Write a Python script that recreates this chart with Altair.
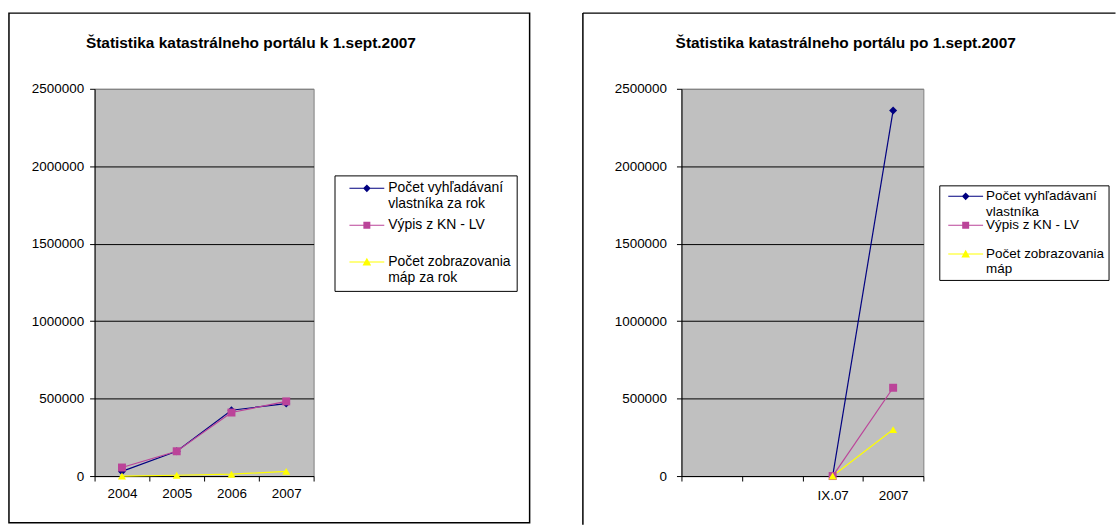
import json

import altair as alt
import pandas as pd

FONT = "Liberation Sans"

# Yearly totals up to 1 Sept 2007
years = ["2004", "2005", "2006", "2007"]
searches_by_year = [30000, 160000, 425000, 468000]
extracts_by_year = [55000, 160000, 410000, 482000]
map_views_by_year = [0, 5000, 12000, 30000]
series_by_year = [
    "Počet vyhľadávaní|vlastníka za rok",
    "Výpis z KN - LV|",
    "Počet zobrazovania|máp za rok",
]

# Totals after 1 Sept 2007 (the axis has two unused leading slots)
slots_after = ["slot1", "slot2", "IX.07", "2007"]
periods_after = ["IX.07", "2007"]
searches_after = [0, 2360000]
extracts_after = [0, 570000]
map_views_after = [0, 300000]
series_after = [
    "Počet vyhľadávaní|vlastníka",
    "Výpis z KN - LV|",
    "Počet zobrazovania|máp",
]

series_colors = ["#000080", "#BB4499", "#FFFF00"]
marker_shapes = ["diamond", "square", "triangle-up"]
# legend keys: a thin bar (the line) with the series marker on top;
# drawn at symbolSize 196, i.e. 7 px per path unit
legend_keys = [
    "M-2.5,-0.07H2.5V0.07H-2.5Z M0,-0.55L0.55,0L0,0.55L-0.55,0Z",
    "M-2.5,-0.07H2.5V0.07H-2.5Z M-0.5,-0.5H0.5V0.5H-0.5Z",
    "M-2.5,-0.07H2.5V0.07H-2.5Z M0,-0.6L0.62,0.5L-0.62,0.5Z",
]
y_ticks = [0, 500000, 1000000, 1500000, 2000000, 2500000]


def long_table(cats, series, columns):
    rows = []
    for name, vals in zip(series, columns):
        for j, (c, v) in enumerate(zip(cats, vals)):
            rows.append({"series": name, "cat": c, "value": v, "ord": j})
    return pd.DataFrame(rows)


def panel(cats, domain, series, columns, title, title_dx, width,
          y_label_pad, x_label_pad, x_label_expr, legend_opts, frame_layers):
    df = long_table(cats, series, columns)

    x_axis = alt.Axis(
        title=None, labelAngle=0, tickBand="extent", tickSize=5,
        labelPadding=x_label_pad, labelFont=FONT, labelFontSize=13.5,
        labelColor="black", domainColor="black", tickColor="black",
        grid=False,
        **({"labelExpr": x_label_expr} if x_label_expr else {}),
    )
    y_axis = alt.Axis(
        title=None, values=y_ticks, format="d", tickSize=5,
        labelPadding=y_label_pad, labelFont=FONT, labelFontSize=13.5,
        labelColor="black", domainColor="black", tickColor="black",
        grid=True, gridWidth=1,
        gridColor={"condition": {"test": "datum.value >= 2500000", "value": "#808080"},
                   "value": "black"},
    )
    x = alt.X("cat:N", sort=domain,
              scale=alt.Scale(type="band", domain=domain, paddingInner=0, paddingOuter=0),
              axis=x_axis)
    y = alt.Y("value:Q", scale=alt.Scale(domain=[0, 2500000], nice=False, zero=True),
              axis=y_axis)

    base = alt.Chart(df)
    layers = list(frame_layers)
    for name, col in zip(series, series_colors):
        layers.append(
            base.transform_filter(alt.datum.series == name)
            .mark_line(color=col, strokeWidth=1.2)
            .encode(x=x, y=y, order=alt.Order("ord:Q"))
        )
    for name, col, shp in zip(series, series_colors, marker_shapes):
        layers.append(
            base.transform_filter(alt.datum.series == name)
            .mark_point(shape=shp, filled=True, color=col, opacity=1, size=64)
            .encode(x=x, y=y)
        )

    legend = alt.Legend(
        title=None, orient="none", direction="vertical",
        strokeColor="black", fillColor="white",
        symbolSize=196, symbolStrokeWidth=0,
        labelFont=FONT, labelColor="black",
        labelBaseline="middle", labelLimit=300,
        labelExpr="split(datum.label, '|')",
        **legend_opts,
    )
    layers.append(
        base.transform_filter("false")
        .mark_point(filled=True, opacity=1)
        .encode(
            x=x, y=y,
            color=alt.Color("series:N", scale=alt.Scale(domain=series, range=series_colors),
                            legend=legend),
            shape=alt.Shape("series:N", scale=alt.Scale(domain=series, range=legend_keys),
                            legend=legend),
        )
    )

    return alt.layer(*layers).properties(
        width=width,
        height=389,
        title=alt.TitleParams(
            title, font=FONT, fontSize=15.5, fontWeight="bold", color="black",
            anchor="middle", dx=title_dx, offset=0, baseline="alphabetic", dy=51,
        ),
    )


one = pd.DataFrame({"k": [0]})

left_frame = [
    alt.Chart(one)
    .mark_rect(fill="white", fillOpacity=0, stroke="black", strokeWidth=1.5)
    .encode(x=alt.value(-86), x2=alt.value(437), y=alt.value(-76), y2=alt.value(436))
]
right_frame = [
    alt.Chart(one).mark_rule(color="black", strokeWidth=1.5)
    .encode(x=alt.value(-99), x2=alt.value(436), y=alt.value(-76)),
    alt.Chart(one).mark_rule(color="black", strokeWidth=1.5)
    .encode(x=alt.value(-99), y=alt.value(-76), y2=alt.value(438)),
]

left = panel(
    years, years, series_by_year,
    [searches_by_year, extracts_by_year, map_views_by_year],
    "Štatistika katastrálneho portálu k 1.sept.2007", 47, 220,
    6, 6, None,
    dict(legendX=241, legendY=87, padding=6, symbolOffset=19.5, labelOffset=14.5,
         rowPadding=7, labelFontSize=14),
    left_frame,
)

hide_slots = "indexof(%s, datum.label) < 0 ? '' : datum.label" % json.dumps(periods_after)
right = panel(
    periods_after, slots_after, series_after,
    [searches_after, extracts_after, map_views_after],
    "Štatistika katastrálneho portálu po 1.sept.2007", 43.5, 243,
    10, 8, hide_slots,
    dict(legendX=259, legendY=97, padding=4, symbolOffset=15.5, labelOffset=13.5,
         rowPadding=-2, labelFontSize=13.5),
    right_frame,
)

chart = (
    alt.hconcat(left, right, spacing=49.5)
    .resolve_scale(color="independent", shape="independent")
    .resolve_legend(color="independent", shape="independent")
    .properties(padding={"left": 7, "top": 10, "right": 0, "bottom": 0})
    .configure(background="white")
    .configure_view(fill="#C0C0C0", stroke="#808080", strokeWidth=1)
)

chart.save("out.html", embed_options={"renderer": "svg", "actions": False})
